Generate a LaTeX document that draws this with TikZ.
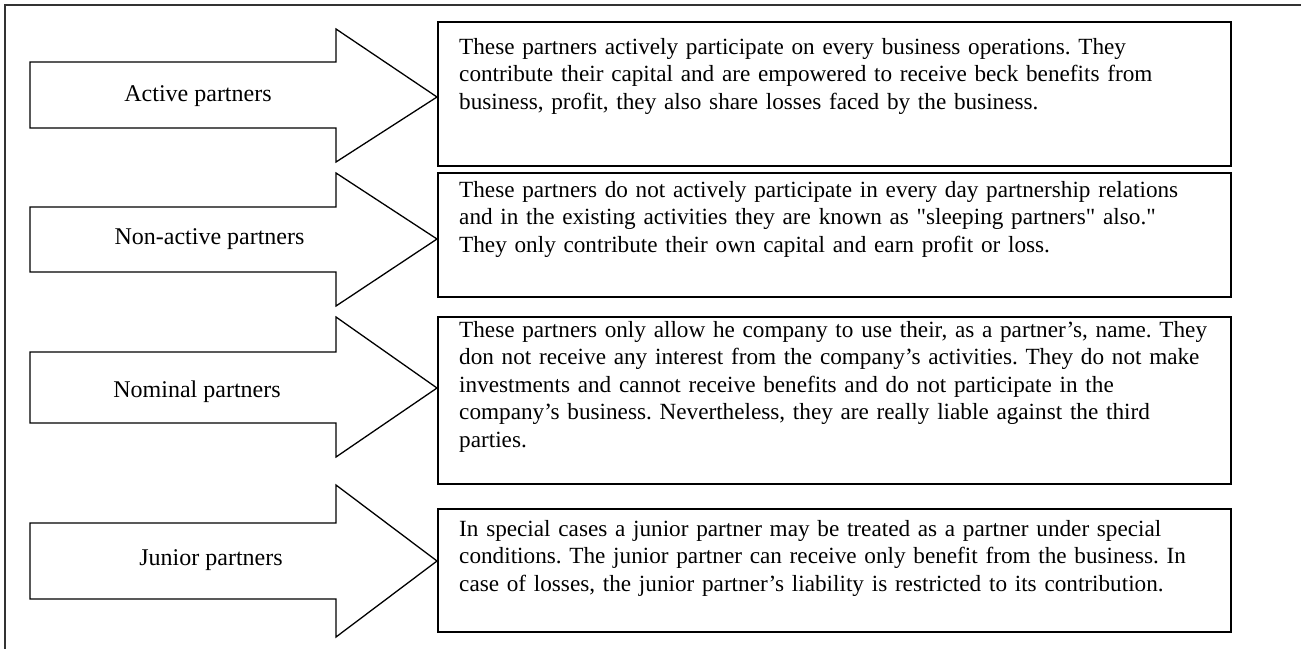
\documentclass[tikz,border=0pt]{standalone}
\usepackage{fontspec}
\setmainfont{Liberation Serif}
\usepackage{tikz}
\frenchspacing

\begin{document}
\begin{tikzpicture}[x=1pt, y=-1pt,
	arrowshape/.style={draw=black, line width=1.3pt, line join=miter},
	descbox/.style={draw=black, line width=1.6pt},
	arrowlabel/.style={inner sep=0pt, anchor=base, font=\fontsize{24}{27.6}\selectfont},
	desctext/.style={inner sep=0pt, anchor=base west, align=left, text width=820pt, font=\fontsize{23.2}{27.6}\selectfont}]
	\useasboundingbox (0,0) rectangle (1301,648);
	\clip (0,0) rectangle (1301,648);
	\draw[color=black!80, line width=1.2pt] (5,5) rectangle (1320,670);
	% arrows
	\draw[arrowshape] (30,62)--(336,62)--(336,29)--(437,97)--(336,162)--(336,128)--(30,128)--cycle;
	\draw[arrowshape] (30,207)--(336,207)--(336,173)--(437,239)--(336,306)--(336,272)--(30,272)--cycle;
	\draw[arrowshape] (30,352)--(336,352)--(336,317)--(437,388)--(336,457)--(336,423)--(30,423)--cycle;
	\draw[arrowshape] (30,523)--(336,523)--(336,485)--(437,561)--(336,637)--(336,599)--(30,599)--cycle;
	\node (active) [arrowlabel, at={(198,101)}] {Active partners};
	\node (nonactive) [arrowlabel, at={(209.5,244)}] {Non-active partners};
	\node (nominal) [arrowlabel, at={(197,397)}] {Nominal partners};
	\node (junior) [arrowlabel, at={(211,565)}] {Junior partners};
	% boxes
	\draw[descbox] (438,22) rectangle (1231,166);
	\draw[descbox] (438,173) rectangle (1231,297);
	\draw[descbox] (438,317) rectangle (1231,484);
	\draw[descbox] (438,509) rectangle (1231,632);
	\node (activetext) [desctext, at={(459,54)}] {These partners actively participate on every business operations. They\\
		contribute their capital and are empowered to receive beck benefits from\\
		business, profit, they also share losses faced by the business.};
	\node (nonactivetext) [desctext, at={(459,197)}] {These partners do not actively participate in every day partnership relations\\
		and in the existing activities they are known as \textquotedbl sleeping partners\textquotedbl{} also.\textquotedbl\\
		They only contribute their own capital and earn profit or loss.};
	\node (nominaltext) [desctext, at={(459,337)}] {These partners only allow he company to use their, as a partner’s, name. They\\
		don not receive any interest from the company’s activities. They do not make\\
		investments and cannot receive benefits and do not participate in the\\
		company’s business. Nevertheless, they are really liable against the third\\
		parties.};
	\node (juniortext) [desctext, at={(459,536)}] {In special cases a junior partner may be treated as a partner under special\\
		conditions. The junior partner can receive only benefit from the business. In\\
		case of losses, the junior partner’s liability is restricted to its contribution.};
\end{tikzpicture}
\end{document}
